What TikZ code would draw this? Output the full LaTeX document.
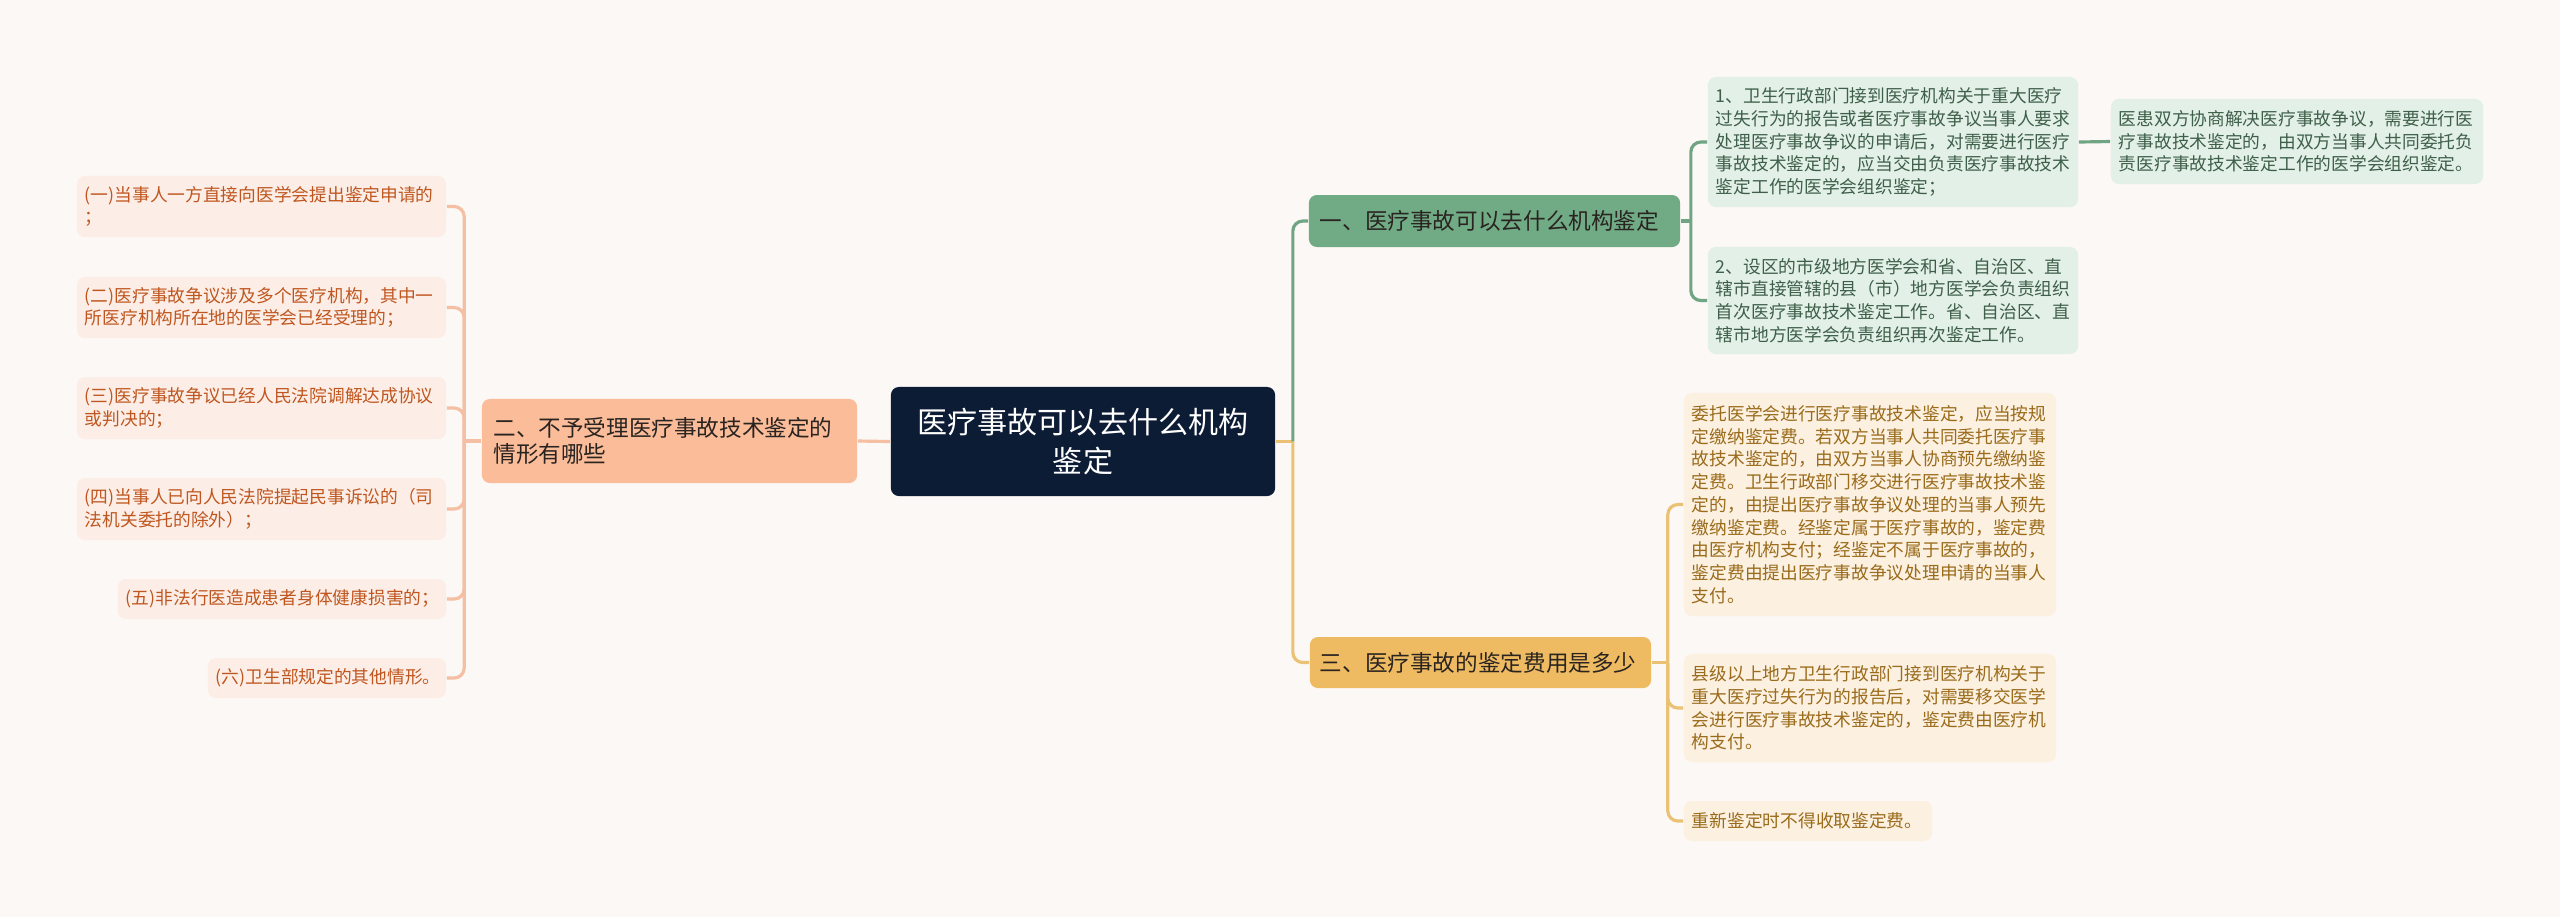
\documentclass[tikz,border=0pt]{standalone}
\usepackage{fontspec}
\usepackage{tikz}
\usepackage{xcolor}
\setmainfont{Noto Sans CJK SC}
\usetikzlibrary{positioning}
\definecolor{paper}{HTML}{FCF8F6}
\definecolor{navy}{HTML}{0D1C35}
\definecolor{salmon}{HTML}{FBBC9A}
\definecolor{salmonleaf}{HTML}{FCEEE6}
\definecolor{salmontext}{HTML}{C0561F}
\definecolor{salmonline}{HTML}{F4BFA2}
\definecolor{sage}{HTML}{70AB86}
\definecolor{sageleaf}{HTML}{E3F0E8}
\definecolor{sagetext}{HTML}{3E5F49}
\definecolor{sageline}{HTML}{6FA583}
\definecolor{mustard}{HTML}{EFBB62}
\definecolor{mustardleaf}{HTML}{FCF0E0}
\definecolor{mustardtext}{HTML}{9A6B1A}
\definecolor{mustardline}{HTML}{EBC274}
\definecolor{ink}{HTML}{2A2420}

\begin{document}
\begin{tikzpicture}[x=0.01cm, y=-0.01cm,
    box/.style={rounded corners=0.08cm, inner ysep=0pt, align=left},
    leaf/.style={box, inner xsep=0.08cm, font=\fontsize{5.04pt}{6.46pt}\selectfont},
    branch/.style={box, text=ink, font=\fontsize{6.43pt}{7.6pt}\selectfont},
    lleaf/.style={leaf, fill=salmonleaf, text=salmontext},
    gleaf/.style={leaf, fill=sageleaf, text=sagetext},
    yleaf/.style={leaf, fill=mustardleaf, text=mustardtext},
    link/.style={line width=0.9pt, rounded corners=0.1cm}]

    % Background
    \fill[paper] (0,0) rectangle (2560,917);
    \useasboundingbox (0,0) rectangle (2560,917);

    % Central topic
    \node[box, fill=navy, text=white, align=center, inner xsep=0pt,
          text width=3.84cm, minimum height=1.09cm,
          font=\fontsize{8.54pt}{10.9pt}\selectfont] (root) at (1083,441.5)
        {医疗事故可以去什么机构\\鉴定};

    % Main branches
    \node[branch, fill=salmon, inner xsep=0.115cm, text width=3.52cm, minimum height=0.84cm]
        (nocase) at (669.5,441) {二、不予受理医疗事故技术鉴定的\\情形有哪些};
    \node[branch, fill=sage, inner xsep=0.11cm, text width=3.49cm, minimum height=0.52cm]
        (where) at (1494.5,221) {一、医疗事故可以去什么机构鉴定};
    \node[branch, fill=mustard, inner xsep=0.10cm, text width=3.21cm, minimum height=0.51cm]
        (fee) at (1480.5,662.5) {三、医疗事故的鉴定费用是多少};

    % Left leaves
    \node[lleaf, text width=3.53cm, minimum height=0.61cm] (case1) at (261.5,206.5)
        {(一)当事人一方直接向医学会提出鉴定申请的\\；};
    \node[lleaf, text width=3.53cm, minimum height=0.61cm] (case2) at (261.5,307.5)
        {(二)医疗事故争议涉及多个医疗机构，其中一\\所医疗机构所在地的医学会已经受理的；};
    \node[lleaf, text width=3.53cm, minimum height=0.62cm] (case3) at (261.5,408)
        {(三)医疗事故争议已经人民法院调解达成协议\\或判决的；};
    \node[lleaf, text width=3.53cm, minimum height=0.62cm] (case4) at (261.5,509)
        {(四)当事人已向人民法院提起民事诉讼的（司\\法机关委托的除外）；};
    \node[lleaf, text width=3.12cm, minimum height=0.40cm] (case5) at (282,599)
        {(五)非法行医造成患者身体健康损害的；};
    \node[lleaf, text width=2.22cm, minimum height=0.40cm] (case6) at (327,678)
        {(六)卫生部规定的其他情形。};

    % Upper right leaves
    \node[gleaf, text width=3.54cm, minimum height=1.30cm] (org1) at (1893,142)
        {1、卫生行政部门接到医疗机构关于重大医疗\\过失行为的报告或者医疗事故争议当事人要求\\处理医疗事故争议的申请后，对需要进行医疗\\事故技术鉴定的，应当交由负责医疗事故技术\\鉴定工作的医学会组织鉴定；};
    \node[gleaf, text width=3.54cm, minimum height=1.07cm] (org2) at (1893,300.5)
        {2、设区的市级地方医学会和省、自治区、直\\辖市直接管辖的县（市）地方医学会负责组织\\首次医疗事故技术鉴定工作。省、自治区、直\\辖市地方医学会负责组织再次鉴定工作。};
    \node[gleaf, text width=3.56cm, minimum height=0.85cm] (org3) at (2297,141.5)
        {医患双方协商解决医疗事故争议，需要进行医\\疗事故技术鉴定的，由双方当事人共同委托负\\责医疗事故技术鉴定工作的医学会组织鉴定。};

    % Lower right leaves
    \node[yleaf, text width=3.56cm, minimum height=2.23cm] (pay1) at (1870,504.5)
        {委托医学会进行医疗事故技术鉴定，应当按规\\定缴纳鉴定费。若双方当事人共同委托医疗事\\故技术鉴定的，由双方当事人协商预先缴纳鉴\\定费。卫生行政部门移交进行医疗事故技术鉴\\定的，由提出医疗事故争议处理的当事人预先\\缴纳鉴定费。经鉴定属于医疗事故的，鉴定费\\由医疗机构支付；经鉴定不属于医疗事故的，\\鉴定费由提出医疗事故争议处理申请的当事人\\支付。};
    \node[yleaf, text width=3.56cm, minimum height=1.08cm] (pay2) at (1870,708)
        {县级以上地方卫生行政部门接到医疗机构关于\\重大医疗过失行为的报告后，对需要移交医学\\会进行医疗事故技术鉴定的，鉴定费由医疗机\\构支付。};
    \node[yleaf, text width=2.32cm, minimum height=0.40cm] (pay3) at (1808,821)
        {重新鉴定时不得收取鉴定费。};

    % Junctions
    \coordinate (rootj) at ([xshift=0.17cm]root.east);
    \coordinate (nocasej) at ([xshift=-0.17cm]nocase.west);
    \coordinate (wherej) at ([xshift=0.10cm]where.east);
    \coordinate (feej) at ([xshift=0.16cm]fee.east);

    % Connectors
    \draw[link, salmonline] (root.west) -- (nocase.east);
    \draw[link, mustardline] (root.east) -- (rootj);
    \draw[link, sageline] (rootj) |- (where.west);
    \draw[link, mustardline] (rootj) |- (fee.west);

    \draw[link, salmonline] (nocase.west) -- (nocasej);
    \foreach \n in {case1,case2,case3,case4,case5,case6}
        \draw[link, salmonline] (nocasej) |- (\n.east);

    \draw[link, sageline] (where.east) -- (wherej);
    \foreach \n in {org1,org2}
        \draw[link, sageline] (wherej) |- (\n.west);
    \draw[link, sageline] (org1.east) -- (org3.west);

    \draw[link, mustardline] (fee.east) -- (feej);
    \foreach \n in {pay1,pay2,pay3}
        \draw[link, mustardline] (feej) |- (\n.west);

\end{tikzpicture}
\end{document}
